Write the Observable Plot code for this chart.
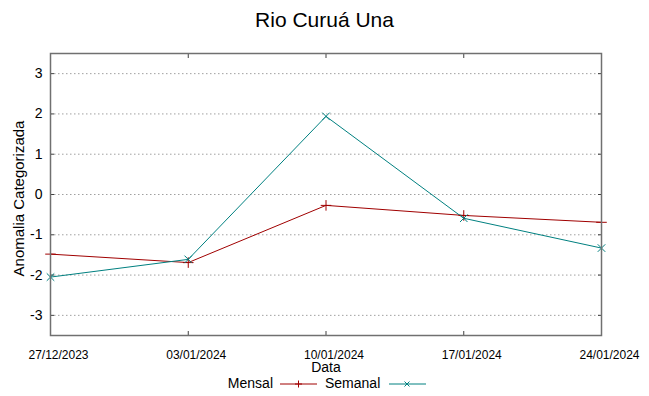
<!DOCTYPE html>
<html>
<head>
<meta charset="utf-8">
<script src="https://cdn.jsdelivr.net/npm/d3@7"></script>
<script src="https://cdn.jsdelivr.net/npm/@observablehq/plot@0.6"></script>
<style>
  html, body { margin: 0; padding: 0; background: #fff; }
  #wrap { position: relative; width: 649px; height: 396px; font-family: "Liberation Sans", Arial, sans-serif; color: #000; overflow: hidden; }
  #title { position: absolute; left: 0; top: 0; width: 649px; height: 40px; line-height: 40px; text-align: center; font-size: 21px; }
  #chart { position: absolute; left: 0; top: 40px; }
  #chart svg { overflow: visible; }
  .leg { position: absolute; font-size: 14px; line-height: 16px; white-space: nowrap; }
</style>
</head>
<body>
<div id="wrap">
  <div id="title">Rio Curuá Una</div>
  <div id="chart"></div>
  <div class="leg" style="left:180px; top:375px; width:93px; text-align:right;">Mensal</div>
  <svg class="leg" style="left:279px; top:376px;" width="40" height="16">
    <line x1="1" y1="8" x2="38" y2="8" stroke="#a00000" stroke-width="1"/>
    <path d="M19.5,4.5V11.5M16,8H23" stroke="#a00000" stroke-width="1" fill="none"/>
  </svg>
  <div class="leg" style="left:325px; top:375px;">Semanal</div>
  <svg class="leg" style="left:388px; top:376px;" width="40" height="16">
    <line x1="1" y1="8" x2="38" y2="8" stroke="#008080" stroke-width="1"/>
    <path d="M16.5,5.5L21.5,10.5M21.5,5.5L16.5,10.5" stroke="#008080" stroke-width="1" fill="none"/>
  </svg>
</div>
<script>
const dates = ["2023-12-27", "2024-01-03", "2024-01-10", "2024-01-17", "2024-01-24"];
const mensal = [-1.48, -1.69, -0.27, -0.52, -0.69];
const semanal = [-2.05, -1.61, 1.94, -0.59, -1.33];
const yTicks = [-3, -2, -1, 0, 1, 2, 3];
const seriesNames = ["Mensal", "Semanal"];
const seriesColors = ["#a00000", "#008080"];

const xTicks = dates.map(d => new Date(d));
const mensalData = dates.map((d, i) => ({date: new Date(d), value: mensal[i], s: "Mensal"}));
const semanalData = dates.map((d, i) => ({date: new Date(d), value: semanal[i], s: "Semanal"}));
const all = mensalData.concat(semanalData);
const fmt = d3.utcFormat("%d/%m/%Y");

const chart = Plot.plot({
  width: 649,
  height: 335,
  marginTop: 13,
  marginBottom: 40,
  marginLeft: 50,
  marginRight: 48,
  style: {fontFamily: "Liberation Sans, Arial, sans-serif", background: "white", color: "#000"},
  x: {type: "utc", domain: [xTicks[0], xTicks[xTicks.length - 1]]},
  y: {domain: [-3.5, 3.5]},
  color: {domain: seriesNames, range: seriesColors},
  marks: [
    Plot.gridY(yTicks, {stroke: "#a0a0a0", strokeOpacity: 1, strokeDasharray: "1.5,2.5"}),
    Plot.axisY(yTicks, {anchor: "left", tickSize: -4, tickPadding: 12, fontSize: 14, label: null, stroke: "#404040", tickFormat: d => String(d)}),
    Plot.axisY(yTicks, {anchor: "right", tickSize: -4, tickFormat: () => "", label: null, stroke: "#404040"}),
    Plot.axisX(xTicks, {anchor: "bottom", tickSize: -4, tickFormat: () => "", label: null, stroke: "#404040"}),
    Plot.axisX(xTicks, {anchor: "top", tickSize: -4, tickFormat: () => "", label: null, stroke: "#404040"}),
    Plot.axisX(xTicks, {anchor: "bottom", tickSize: 0, tickPadding: 15, dx: 8, tickFormat: fmt, fontSize: 12, label: null}),
    Plot.text(["Data"], {frameAnchor: "bottom", dy: 36, fontSize: 14}),
    Plot.text(["Anomalia Categorizada"], {frameAnchor: "left", textAnchor: "middle", rotate: -90, dx: -31.5, dy: 4, fontSize: 15}),
    Plot.line(all, {x: "date", y: "value", z: "s", stroke: "s", strokeWidth: 1}),
    Plot.dot(mensalData, {x: "date", y: "value", symbol: "plus", r: 3.5, stroke: "s", fill: "none", strokeWidth: 1}),
    Plot.dot(semanalData, {x: "date", y: "value", symbol: "times", r: 3.5, stroke: "s", fill: "none", strokeWidth: 1}),
    Plot.frame({stroke: "#707070", strokeWidth: 1.5})
  ]
});
document.getElementById("chart").appendChild(chart);
</script>
</body>
</html>
